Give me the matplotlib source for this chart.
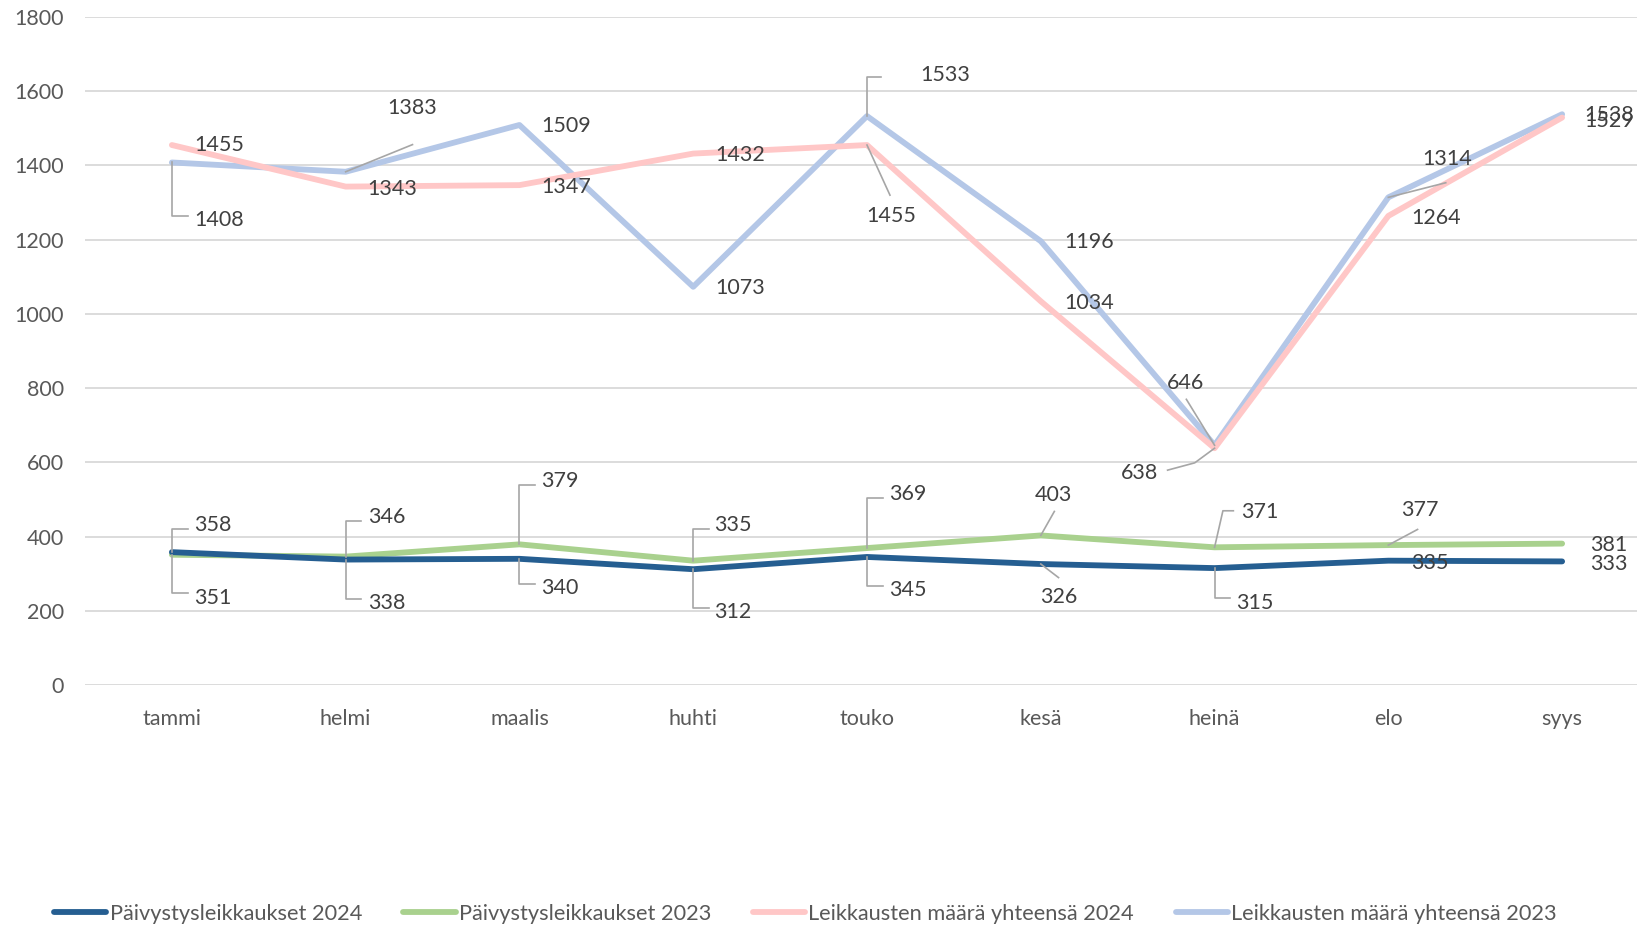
"""
Päivystysleikkaukset ja leikkausten kokonaismäärä kuukausittain 2023-2024.
"""

import matplotlib
matplotlib.use('Agg')
import matplotlib.pyplot as plt
from matplotlib.transforms import IdentityTransform
import numpy as np

plt.rcParams['font.family'] = ['Lato', 'DejaVu Sans']

months = ['tammi', 'helmi', 'maalis', 'huhti', 'touko', 'kesä', 'heinä', 'elo', 'syys']

paiv_2024 = [358, 338, 340, 312, 345, 326, 315, 335, 333]
paiv_2023 = [351, 346, 379, 335, 369, 403, 371, 377, 381]
yht_2024 = [1455, 1343, 1347, 1432, 1455, 1034, 638, 1264, 1529]
yht_2023 = [1408, 1383, 1509, 1073, 1533, 1196, 646, 1314, 1538]

series_names = ['Päivystysleikkaukset 2024', 'Päivystysleikkaukset 2023',
                'Leikkausten määrä yhteensä 2024', 'Leikkausten määrä yhteensä 2023']
colors = ['#255E91', '#A9D18E', '#FFC7C7', '#B4C7E7']

# label placement (offset of label centre from the point, screen px, y down)
# leader: None, 'up'/'down' = elbow, or a list of extra vertices
label_layout = {
    'paiv_2024': [((39, -26), 'up'), ((39, 42), 'down'), ((39, 28), 'down'),
                  ((38, 41), 'down'), ((39, 32), 'down'), ((17, 32), [(17, 13)]),
                  ((39, 33), 'down'), ((40, 2), None), ((45, 2), None)],
    'paiv_2023': [((39, 41), 'down'), ((39, -38), 'up'), ((39, -61), 'up'),
                  ((38, -34), 'up'), ((39, -52), 'up'), ((12, -39), [(13, -23)]),
                  ((43, -34), [(8, -35), (18, -35)]), ((30, -34), [(28, -15)]),
                  ((45, 1), None)],
    'yht_2024': [((45, 0), None), ((45, 2), None), ((45, 2), None), ((45, 1), None),
                 ((23, 68), [(22, 48)]), ((46, 2), None),
                 ((-72, 24), [(-19, 14), (-45, 21)]), ((46, 2), None), ((45, 3), None)],
    'yht_2023': [((45, 55), 'down'), ((64, -61), [(64, -26)]), ((45, 1), None),
                 ((45, 1), None), ((75, -39), [(0, -37), (13, -37)]), ((46, 1), None),
                 ((-28, -60), [(-27, -44)]), ((56, -37), [(55, -14)]), ((45, 1), None)],
}

SCALE = 1637 / 1568

fig = plt.figure(figsize=(16.37, 9.27), dpi=100)
ax = fig.add_axes([85 / 1637, 1 - 685 / 927, 1564 / 1637, (685 - 17) / 927])

x = np.arange(len(months))
all_series = [paiv_2024, paiv_2023, yht_2024, yht_2023]
keys = ['paiv_2024', 'paiv_2023', 'yht_2024', 'yht_2023']
for k in [3, 2, 1, 0]:
    ax.plot(x, all_series[k], color=colors[k], lw=4.2, solid_capstyle='round',
            label=series_names[k], zorder=3)

ax.set_xlim(-0.5, 8.5)
ax.set_ylim(0, 1800)
ax.set_yticks(range(0, 1801, 200))
ax.set_xticks(x)
ax.set_xticklabels(months)
ax.grid(axis='y', color='#D9D9D9', lw=1.3)
ax.set_axisbelow(True)
for s in ax.spines.values():
    s.set_visible(False)
ax.tick_params(length=0, labelsize=15.5, labelcolor='#595959')
ax.tick_params(axis='y', pad=15)
ax.tick_params(axis='x', pad=17)

fig.canvas.draw()
for k, key in enumerate(keys):
    vals = all_series[k]
    for i, v in enumerate(vals):
        (dx, dy), leader = label_layout[key][i]
        ax.annotate(str(v), xy=(i, v), xytext=(dx * SCALE, -dy * SCALE),
                    textcoords='offset pixels', ha='center', va='center',
                    fontsize=15.5, color='#404040', zorder=6)
        if leader is None:
            continue
        px, py = ax.transData.transform((i, v))
        if leader in ('up', 'down'):
            ly = dy + (4 if leader == 'up' else -4)
            pts = [(0, 0), (0, ly), (15, ly)]
        else:
            pts = [(0, 0)] + list(leader)
        xs = [px + a * SCALE for a, b in pts]
        ys = [py - b * SCALE for a, b in pts]
        ax.plot(xs, ys, transform=IdentityTransform(), color='#A6A6A6', lw=1.2,
                zorder=5, clip_on=False)

handles, labels = ax.get_legend_handles_labels()
order = [labels.index(n) for n in series_names]
fig.legend([handles[j] for j in order], series_names, loc='center',
           bbox_to_anchor=(0.492, 1 - 914 / 927), ncol=4, frameon=False,
           fontsize=15.7, labelcolor='#595959', handlelength=2.4, handletextpad=0.15,
           columnspacing=1.9)

fig.savefig('out.png', dpi=100)
